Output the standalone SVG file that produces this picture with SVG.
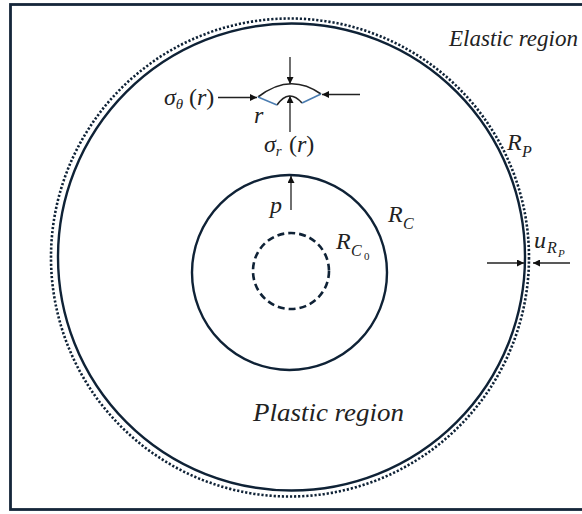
<svg xmlns="http://www.w3.org/2000/svg" width="582" height="514" viewBox="0 0 582 514">
<defs>
<marker id="ah" viewBox="0 0 10 10" refX="10" refY="5" markerWidth="7" markerHeight="7" markerUnits="userSpaceOnUse" orient="auto">
<path d="M0,0 L10,5 L0,10 z" fill="#111"/>
</marker>
<style>
.ring{fill:none;stroke:#0f2236;stroke-width:2.4}
.dot{fill:none;stroke:#0f2236;stroke-width:2.6;stroke-dasharray:2.2 1.9}
.dash{fill:none;stroke:#0f2236;stroke-width:2.6;stroke-dasharray:7 4}
.arr{fill:none;stroke:#222;stroke-width:1.3;marker-end:url(#ah)}
.m{font-family:"Liberation Serif","DejaVu Serif",serif;font-style:italic;fill:#222}
.up{font-style:normal}
.side{fill:none;stroke:#4a7cb0;stroke-width:1.6}
.arc{fill:none;stroke:#222;stroke-width:1.6}
</style>
</defs>
<rect x="0" y="0" width="582" height="514" fill="#fff"/>
<rect id="frame" x="10.5" y="4.5" width="600" height="505" fill="none" stroke="#15263a" stroke-width="2.8"/>
<g id="outer-boundary"><circle class="dot" cx="290" cy="257.5" r="239"/></g>
<g id="plastic-boundary"><circle class="ring" cx="291.5" cy="257" r="233.5"/></g>
<g id="cavity"><circle class="ring" cx="289.5" cy="272.5" r="97.5"/></g>
<g id="initial-cavity"><circle class="dash" cx="291" cy="271" r="38"/></g>
<g id="element">
<path class="arc" d="M258,97 Q290,72 321,94"/>
<path class="arc" d="M277,105 Q289,88 302,103"/>
<path class="side" d="M258,97 L277,105"/>
<path class="side" d="M321,94 L302,103"/>
</g>
<g id="connectors">
<path class="arr" d="M290,57 L290,84"/>
<path class="arr" d="M290,132 L290,96"/>
<path class="arr" d="M218,97.5 L257,97.5"/>
<path class="arr" d="M360,94.5 L322,94.5"/>
<path class="arr" d="M291,210 L291,176"/>
<path class="arr" d="M487,263 L524,263"/>
<path class="arr" d="M570,263 L533,263"/>
</g>
<g id="labels">
<text class="m" x="449" y="46" font-size="24" textLength="129" lengthAdjust="spacingAndGlyphs">Elastic region</text>
<text class="m" x="253" y="421" font-size="25" textLength="151" lengthAdjust="spacingAndGlyphs">Plastic region</text>
<text class="m" font-size="24"><tspan x="164" y="105">σ</tspan><tspan font-size="15" dy="4">θ</tspan><tspan class="up" x="189" y="105">(</tspan><tspan>r</tspan><tspan class="up">)</tspan></text>
<text class="m" x="254" y="123" font-size="24">r</text>
<text class="m" font-size="24"><tspan x="264" y="152">σ</tspan><tspan font-size="15" dy="4">r</tspan><tspan class="up" x="289" y="152">(</tspan><tspan>r</tspan><tspan class="up">)</tspan></text>
<text class="m" x="270" y="213" font-size="24">p</text>
<text class="m" font-size="24"><tspan x="388" y="222">R</tspan><tspan font-size="16" x="403" y="229">C</tspan></text>
<text class="m" font-size="24"><tspan x="336" y="249">R</tspan><tspan font-size="16" x="351" y="256">C</tspan><tspan class="up" font-size="11" x="364" y="260">0</tspan></text>
<text class="m" font-size="24"><tspan x="507" y="150">R</tspan><tspan font-size="16" x="522" y="157">P</tspan></text>
<text class="m" font-size="24"><tspan x="534" y="248">u</tspan><tspan font-size="16" x="547" y="253">R</tspan><tspan font-size="11" x="558" y="257">P</tspan></text>
</g>
</svg>
